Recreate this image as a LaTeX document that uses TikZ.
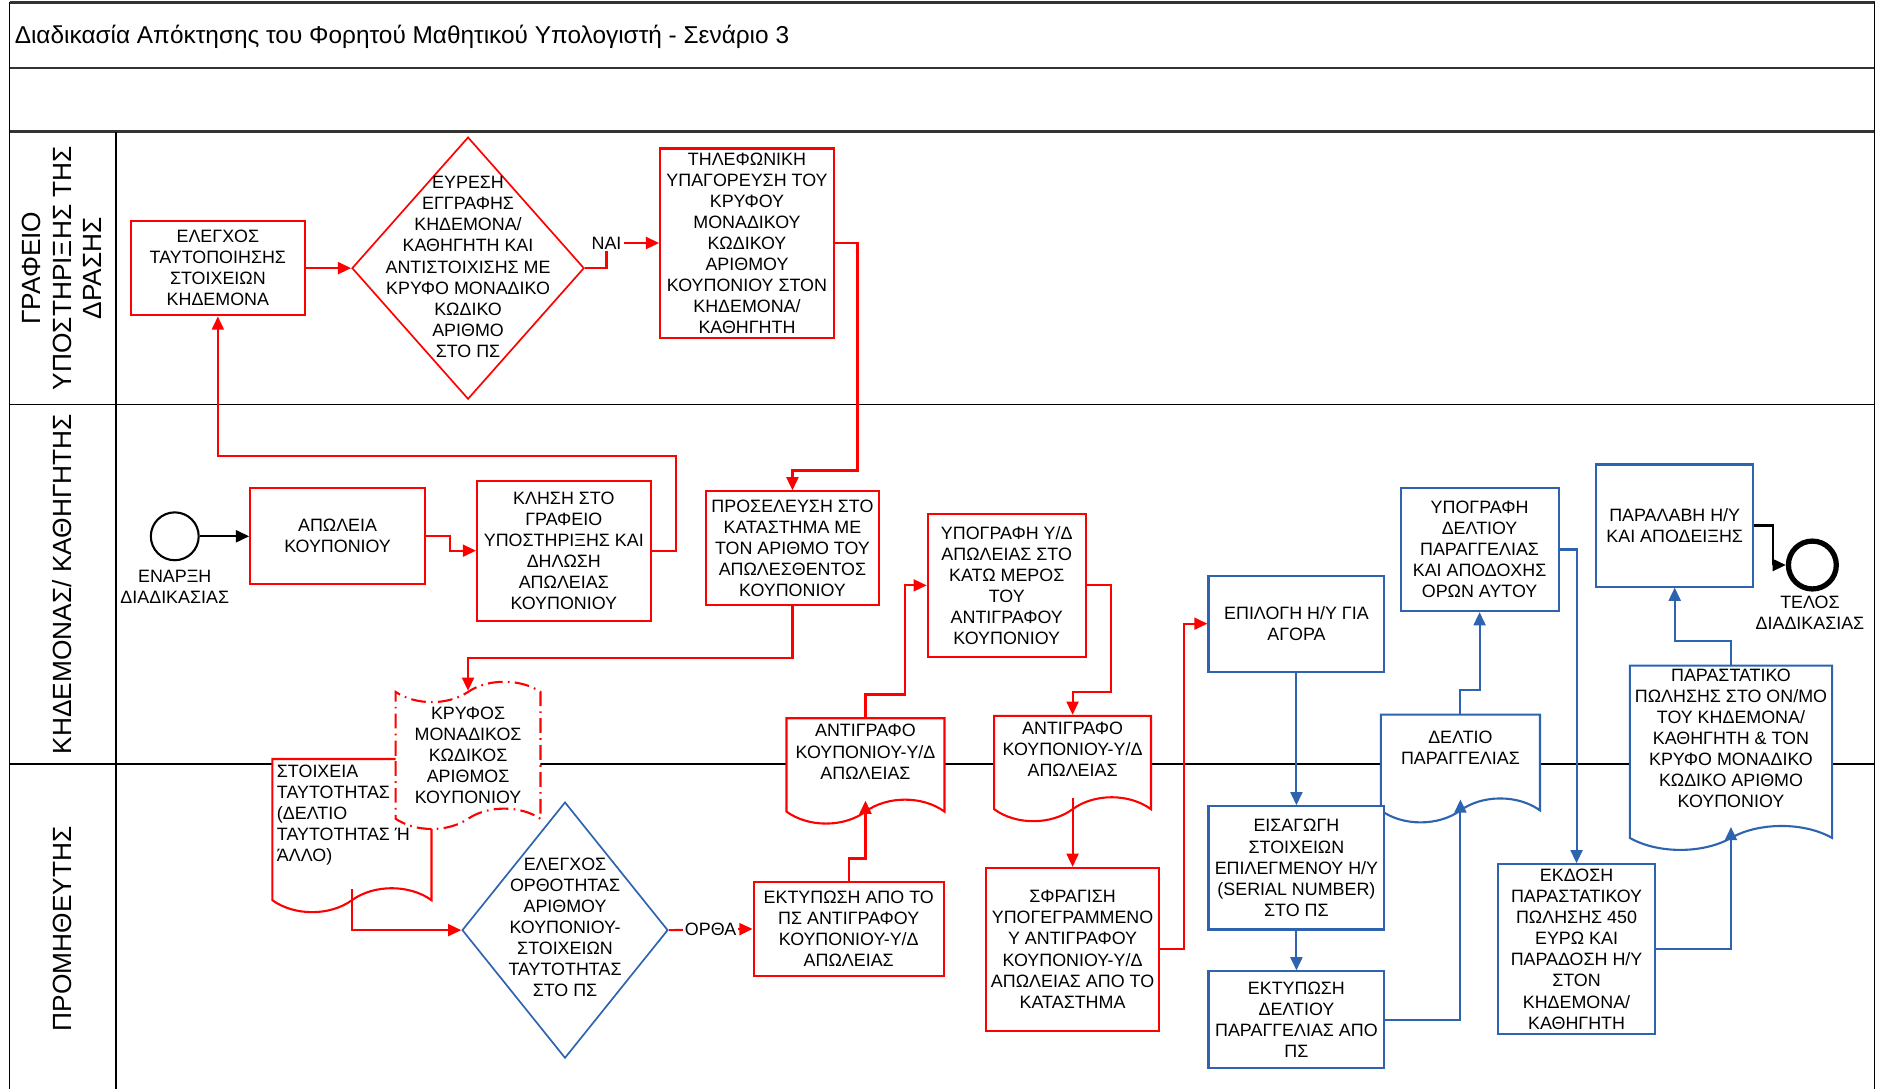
\documentclass[tikz,border=0pt]{standalone}
\usepackage{fontspec}
\setmainfont{Liberation Sans}
\usetikzlibrary{shapes.geometric,shapes.symbols,arrows.meta}
\definecolor{provblue}{RGB}{46,99,176}

\begin{document}
\begin{tikzpicture}[x=0.02cm, y=-0.02cm,
  font=\fontsize{8.5}{10}\selectfont,
  redbox/.style={rectangle, draw=red, line width=1pt, fill=white, inner sep=0pt, align=center},
  bluebox/.style={redbox, draw=provblue},
  reddoc/.style={tape, tape bend top=none, tape bend bottom=in and out, tape bend height=0.4cm, draw=red, line width=1pt, fill=white, inner sep=0pt},
  bluedoc/.style={reddoc, draw=provblue},
  decision/.style={diamond, line width=0.8pt, fill=white, inner sep=0pt},
  event/.style={circle, draw, fill=white, minimum size=0.8cm, inner sep=0pt},
  redflow/.style={draw=red, line width=1pt, -{Triangle[length=0.22cm, width=0.2cm]}},
  blueflow/.style={draw=provblue, line width=1pt, -{Triangle[length=0.22cm, width=0.2cm]}},
  blackflow/.style={draw=black, line width=1pt, -{Triangle[length=0.22cm, width=0.2cm]}},
  flowlabel/.style={fill=white, inner sep=1pt},
  lanelabel/.style={rotate=90, align=center, font=\fontsize{12.5}{14.5}\selectfont}]
\useasboundingbox (0,0) rectangle (1568,910);

% pool and lanes
\foreach \y in {2,57,110} \draw[line width=1.2pt, black!80] (8,\y) -- (1566,\y);
\foreach \y in {338,638} \draw[line width=0.8pt] (8,\y) -- (1566,\y);
\draw[line width=0.8pt] (8,2) -- (8,910);
\draw[line width=0.8pt] (1566,2) -- (1566,910);
\draw[line width=0.8pt] (97,110) -- (97,910);
\node[anchor=west, inner sep=0pt, font=\fontsize{11.6}{13}\selectfont] (title) at (12,31) {Διαδικασία Απόκτησης του Φορητού Μαθητικού Υπολογιστή - Σενάριο 3};
\node[lanelabel] (office) at (52,224) {ΓΡΑΦΕΙΟ\\ΥΠΟΣΤΗΡΙΞΗΣ ΤΗΣ\\ΔΡΑΣΗΣ};
\node[lanelabel] (parent) at (52,488) {ΚΗΔΕΜΟΝΑΣ/ ΚΑΘΗΓΗΤΗΣ};
\node[lanelabel] (supplier) at (52,776) {ΠΡΟΜΗΘΕΥΤΗΣ};

% support office
\node[redbox, minimum width=2.9cm, minimum height=1.58cm] (check) at (182,224) {ΕΛΕΓΧΟΣ\\ΤΑΥΤΟΠΟΙΗΣΗΣ\\ΣΤΟΙΧΕΙΩΝ\\ΚΗΔΕΜΟΝΑ};
\node[decision, draw=red, minimum width=3.88cm, minimum height=4.38cm] (match) at (391,224) {};
\node[align=center] (matchtext) at (391,223) {ΕΥΡΕΣΗ\\ΕΓΓΡΑΦΗΣ\\ΚΗΔΕΜΟΝΑ/\\ΚΑΘΗΓΗΤΗ ΚΑΙ\\ΑΝΤΙΣΤΟΙΧΙΣΗΣ ΜΕ\\ΚΡΥΦΟ ΜΟΝΑΔΙΚΟ\\ΚΩΔΙΚΟ\\ΑΡΙΘΜΟ\\ΣΤΟ ΠΣ};
\node[redbox, minimum width=2.9cm, minimum height=3.16cm] (dictate) at (624,203) {ΤΗΛΕΦΩΝΙΚΗ\\ΥΠΑΓΟΡΕΥΣΗ ΤΟΥ\\ΚΡΥΦΟΥ\\ΜΟΝΑΔΙΚΟΥ\\ΚΩΔΙΚΟΥ\\ΑΡΙΘΜΟΥ\\ΚΟΥΠΟΝΙΟΥ ΣΤΟΝ\\ΚΗΔΕΜΟΝΑ/\\ΚΑΘΗΓΗΤΗ};

% parent / teacher
\node[event, line width=1pt] (start) at (146,448) {};
\node[align=center] (starttext) at (146,490) {ΕΝΑΡΞΗ\\ΔΙΑΔΙΚΑΣΙΑΣ};
\node[redbox, minimum width=2.92cm, minimum height=1.6cm] (loss) at (282,448) {ΑΠΩΛΕΙΑ\\ΚΟΥΠΟΝΙΟΥ};
\node[redbox, minimum width=2.9cm, minimum height=2.34cm] (call) at (471,460) {ΚΛΗΣΗ ΣΤΟ\\ΓΡΑΦΕΙΟ\\ΥΠΟΣΤΗΡΙΞΗΣ ΚΑΙ\\ΔΗΛΩΣΗ\\ΑΠΩΛΕΙΑΣ\\ΚΟΥΠΟΝΙΟΥ};
\node[redbox, minimum width=2.9cm, minimum height=1.9cm] (visit) at (662,458) {ΠΡΟΣΕΛΕΥΣΗ ΣΤΟ\\ΚΑΤΑΣΤΗΜΑ ΜΕ\\ΤΟΝ ΑΡΙΘΜΟ ΤΟΥ\\ΑΠΩΛΕΣΘΕΝΤΟΣ\\ΚΟΥΠΟΝΙΟΥ};
\node[redbox, minimum width=2.64cm, minimum height=2.4cm] (sign) at (841,489) {ΥΠΟΓΡΑΦΗ Υ/Δ\\ΑΠΩΛΕΙΑΣ ΣΤΟ\\ΚΑΤΩ ΜΕΡΟΣ\\ΤΟΥ\\ΑΝΤΙΓΡΑΦΟΥ\\ΚΟΥΠΟΝΙΟΥ};
\node[bluebox, minimum width=2.94cm, minimum height=1.6cm] (choose) at (1083,521) {ΕΠΙΛΟΓΗ Η/Υ ΓΙΑ\\ΑΓΟΡΑ};
\node[bluebox, minimum width=2.64cm, minimum height=2.06cm] (signorder) at (1236,459) {ΥΠΟΓΡΑΦΗ\\ΔΕΛΤΙΟΥ\\ΠΑΡΑΓΓΕΛΙΑΣ\\ΚΑΙ ΑΠΟΔΟΧΗΣ\\ΟΡΩΝ ΑΥΤΟΥ};
\node[bluebox, minimum width=2.62cm, minimum height=2.04cm] (receive) at (1399,439) {ΠΑΡΑΛΑΒΗ Η/Υ\\ΚΑΙ ΑΠΟΔΕΙΞΗΣ};
\node[event, line width=2.5pt] (finish) at (1514,472) {};
\node[align=center] (finishtext) at (1512,512) {ΤΕΛΟΣ\\ΔΙΑΔΙΚΑΣΙΑΣ};

% documents on the lane border
\node[reddoc, minimum width=2.66cm, minimum height=2.56cm] (idcard) at (294,688) {};
\node[anchor=north west, inner sep=0pt, align=left] (idcardtext) at (231,639) {ΣΤΟΙΧΕΙΑ\\ΤΑΥΤΟΤΗΤΑΣ\\(ΔΕΛΤΙΟ\\ΤΑΥΤΟΤΗΤΑΣ Ή\\ΆΛΛΟ)};
\node[reddoc, tape bend top=in and out, tape bend bottom=in and out, tape bend height=0.34cm, dash pattern=on 7pt off 2.5pt on 0.8pt off 2.5pt, minimum width=2.42cm, minimum height=2.46cm, align=center] (secret) at (391,631) {ΚΡΥΦΟΣ\\ΜΟΝΑΔΙΚΟΣ\\ΚΩΔΙΚΟΣ\\ΑΡΙΘΜΟΣ\\ΚΟΥΠΟΝΙΟΥ};
\node[reddoc, minimum width=2.64cm, minimum height=1.76cm] (copyA) at (723,634) {};
\node[align=center] (copyAtext) at (723,628) {ΑΝΤΙΓΡΑΦΟ\\ΚΟΥΠΟΝΙΟΥ-Υ/Δ\\ΑΠΩΛΕΙΑΣ};
\node[reddoc, minimum width=2.62cm, minimum height=1.76cm] (copyB) at (896,632) {};
\node[align=center] (copyBtext) at (896,626) {ΑΝΤΙΓΡΑΦΟ\\ΚΟΥΠΟΝΙΟΥ-Υ/Δ\\ΑΠΩΛΕΙΑΣ};
\node[bluedoc, minimum width=2.66cm, minimum height=1.8cm] (order) at (1220,632) {};
\node[align=center] (ordertext) at (1220,625) {ΔΕΛΤΙΟ\\ΠΑΡΑΓΓΕΛΙΑΣ};
\node[bluedoc, minimum width=3.38cm, minimum height=3.08cm] (invoice) at (1446,623) {};
\node[align=center] (invoicetext) at (1446,617) {ΠΑΡΑΣΤΑΤΙΚΟ\\ΠΩΛΗΣΗΣ ΣΤΟ ΟΝ/ΜΟ\\ΤΟΥ ΚΗΔΕΜΟΝΑ/\\ΚΑΘΗΓΗΤΗ \& ΤΟΝ\\ΚΡΥΦΟ ΜΟΝΑΔΙΚΟ\\ΚΩΔΙΚΟ ΑΡΙΘΜΟ\\ΚΟΥΠΟΝΙΟΥ};

% supplier
\node[decision, draw=provblue, minimum width=3.44cm, minimum height=4.28cm] (verify) at (472,777) {};
\node[align=center] (verifytext) at (472,775) {ΕΛΕΓΧΟΣ\\ΟΡΘΟΤΗΤΑΣ\\ΑΡΙΘΜΟΥ\\ΚΟΥΠΟΝΙΟΥ-\\ΣΤΟΙΧΕΙΩΝ\\ΤΑΥΤΟΤΗΤΑΣ\\ΣΤΟ ΠΣ};
\node[redbox, minimum width=3.18cm, minimum height=1.56cm] (printcopy) at (709,776) {ΕΚΤΥΠΩΣΗ ΑΠΟ ΤΟ\\ΠΣ ΑΝΤΙΓΡΑΦΟΥ\\ΚΟΥΠΟΝΙΟΥ-Υ/Δ\\ΑΠΩΛΕΙΑΣ};
\node[redbox, minimum width=2.9cm, minimum height=2.72cm] (stamp) at (896,793) {ΣΦΡΑΓΙΣΗ\\ΥΠΟΓΕΓΡΑΜΜΕΝΟ\\Υ ΑΝΤΙΓΡΑΦΟΥ\\ΚΟΥΠΟΝΙΟΥ-Υ/Δ\\ΑΠΩΛΕΙΑΣ ΑΠΟ ΤΟ\\ΚΑΤΑΣΤΗΜΑ};
\node[bluebox, minimum width=2.94cm, minimum height=2.06cm] (enter) at (1083,725) {ΕΙΣΑΓΩΓΗ\\ΣΤΟΙΧΕΙΩΝ\\ΕΠΙΛΕΓΜΕΝΟΥ Η/Υ\\(SERIAL NUMBER)\\ΣΤΟ ΠΣ};
\node[bluebox, minimum width=2.94cm, minimum height=1.62cm] (printorder) at (1083,852) {ΕΚΤΥΠΩΣΗ\\ΔΕΛΤΙΟΥ\\ΠΑΡΑΓΓΕΛΙΑΣ ΑΠΟ\\ΠΣ};
\node[bluebox, minimum width=2.62cm, minimum height=2.84cm] (issue) at (1317,793) {ΕΚΔΟΣΗ\\ΠΑΡΑΣΤΑΤΙΚΟΥ\\ΠΩΛΗΣΗΣ 450\\ΕΥΡΩ ΚΑΙ\\ΠΑΡΑΔΟΣΗ Η/Υ\\ΣΤΟΝ\\ΚΗΔΕΜΟΝΑ/\\ΚΑΘΗΓΗΤΗ};

% flows
\draw[blackflow] (start) -- (loss);
\draw[redflow] (loss.east) -- ++(20,0) |- (call.west);
\draw[redflow] (call.east) -- ++(20,0) -- ++(0,-79) -| (check.south);
\draw[redflow] (check) -- (match);
\draw[redflow] (match.east) -- ++(18,0) |- node[flowlabel] {ΝΑΙ} (dictate.west);
\draw[redflow] (dictate.east) -- ++(19,0) -- ++(0,190) -| (visit.north);
\draw[redflow] (visit.south) -- ++(0,43) -| (secret.north);
\draw[redflow] (idcard.south) |- (verify.west);
\draw[redflow] (verify.east) -- node[flowlabel] {ΟΡΘΑ} (printcopy.west);
\draw[redflow] (printcopy.north) -- ++(0,-19) -| (copyA.south);
\draw[redflow] (copyA.north) -- ++(0,-19) -- ++(33,0) |- (sign.west);
\draw[redflow] (sign.east) -- ++(20,0) -- ++(0,89) -| (copyB.north);
\draw[redflow] (copyB.south) -- (stamp.north);
\draw[redflow] (stamp.east) -- ++(20,0) |- (choose.west);
\draw[blueflow] (choose) -- (enter);
\draw[blueflow] (enter) -- (printorder);
\draw[blueflow] (printorder.east) -| (order.south);
\draw[blueflow] (order.north) -- ++(0,-20) -| (signorder.south);
\draw[blueflow] (signorder.east) -| (issue.north);
\draw[blueflow] (issue.east) -| (invoice.south);
\draw[blueflow] (invoice.north) -- ++(0,-20) -| (receive.south);
\draw[blackflow] (receive.east) -- ++(16,0) |- (finish.west);
\end{tikzpicture}
\end{document}
